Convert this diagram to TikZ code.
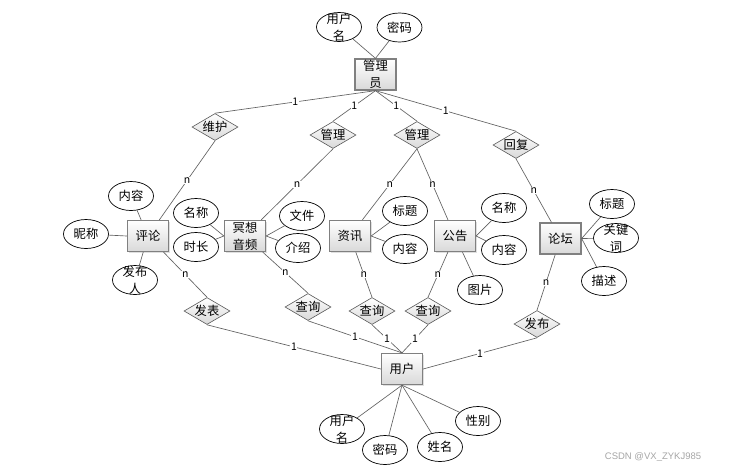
\documentclass[tikz,border=0pt]{standalone}
\usepackage{fontspec}
\setmainfont{Noto Sans CJK SC}
\newfontfamily\wmfont{Liberation Sans}
\usetikzlibrary{shapes.geometric,shadows}
\begin{document}
\begin{tikzpicture}[x=1pt,y=-1pt,
  every node/.style={font=\fontsize{12.3}{17}\selectfont},
  ent/.style={rectangle, draw=black!50, line width=1.3pt, top color=white, bottom color=black!15,
    minimum width=41pt, minimum height=31pt, inner sep=0pt,
    drop shadow={shadow xshift=1.3pt, shadow yshift=-1.3pt, opacity=0.25}},
  attr/.style={ellipse, draw=black, line width=0.7pt, fill=white,
    minimum width=45pt, minimum height=29pt, inner sep=0pt},
  rel/.style={diamond, aspect=1.7, draw=black!65, line width=0.6pt, top color=white, bottom color=black!15,
    minimum width=46pt, minimum height=27pt, inner sep=0pt},
  ml/.style={align=center, inner sep=0pt, font=\fontsize{12.3}{17}\selectfont},
  conn/.style={draw=black!62, line width=0.65pt},
  card/.style={fill=white, inner sep=0.6pt, font=\fontsize{10.5}{11}\selectfont}
]
\useasboundingbox[fill=white] (0,0) rectangle (738,472);

% entities
\node[ent, label={[ml]center:{管理\\员}}] (mgr) at (375.5,74.5) {};
\node[ent] (pl) at (148,236) {评论};
\node[ent, label={[ml]center:{冥想\\音频}}] (mx) at (245,236) {};
\node[ent] (zx) at (350,236) {资讯};
\node[ent] (gg) at (455,236) {公告};
\node[ent] (lt) at (560.5,238.5) {论坛};
\node[ent] (user) at (402,369) {用户};

% attributes
\node[attr, label={[ml]center:{用户\\名}}] (a1) at (339,27) {};
\node[attr] (a2) at (399.5,27.5) {密码};
\node[attr] (b1) at (131,196) {内容};
\node[attr] (b2) at (86,234) {昵称};
\node[attr, label={[ml]center:{发布\\人}}] (b3) at (135,280) {};
\node[attr] (c1) at (196,213) {名称};
\node[attr] (c2) at (196,247) {时长};
\node[attr] (c3) at (302,216) {文件};
\node[attr] (c4) at (298,248) {介绍};
\node[attr] (d1) at (405,211) {标题};
\node[attr] (d2) at (405,249) {内容};
\node[attr] (e1) at (504,208) {名称};
\node[attr] (e2) at (504,250) {内容};
\node[attr] (e3) at (480,290) {图片};
\node[attr] (f1) at (612,204) {标题};
\node[attr, label={[ml]center:{关键\\词}}] (f2) at (616,238) {};
\node[attr] (f3) at (604,281) {描述};
\node[attr, label={[ml]center:{用户\\名}}] (g1) at (342,429) {};
\node[attr] (g2) at (385,450) {密码};
\node[attr] (g3) at (440,447) {姓名};
\node[attr] (g4) at (478,421) {性别};

% relationships
\node[rel] (wh) at (215,127) {维护};
\node[rel] (gl1) at (333,135) {管理};
\node[rel] (gl2) at (417,135) {管理};
\node[rel] (hf) at (516,145) {回复};
\node[rel] (fb) at (207,311) {发表};
\node[rel] (cx1) at (308,307) {查询};
\node[rel] (cx2) at (372,311) {查询};
\node[rel] (cx3) at (428,311) {查询};
\node[rel] (fbu) at (537,324) {发布};

% attribute links
\draw[conn] (a1) -- (mgr.north);
\draw[conn] (a2) -- (mgr.north);
\draw[conn] (b1) -- (pl);
\draw[conn] (b2) -- (pl.west);
\draw[conn] (b3) -- (pl);
\draw[conn] (c1) -- (mx.west);
\draw[conn] (c2) -- (mx.west);
\draw[conn] (c3) -- (mx.east);
\draw[conn] (c4) -- (mx.east);
\draw[conn] (d1) -- (zx.east);
\draw[conn] (d2) -- (zx.east);
\draw[conn] (e1) -- (gg.east);
\draw[conn] (e2) -- (gg.east);
\draw[conn] (e3) -- (gg);
\draw[conn] (f1) -- (lt.east);
\draw[conn] (f2) -- (lt.east);
\draw[conn] (f3) -- (lt.east);
\draw[conn] (g1) -- (user.south);
\draw[conn] (g2) -- (user.south);
\draw[conn] (g3) -- (user.south);
\draw[conn] (g4) -- (user.south);

% relationship links
\draw[conn] (mgr.south) -- node[card]{1} (wh.north);
\draw[conn] (mgr.south) -- node[card]{1} (gl1.north);
\draw[conn] (mgr.south) -- node[card]{1} (gl2.north);
\draw[conn] (mgr.south) -- node[card]{1} (hf.north);
\draw[conn] (wh.south) -- node[card]{n} (pl);
\draw[conn] (gl1.south) -- node[card]{n} (mx);
\draw[conn] (gl2.south) -- node[card]{n} (zx);
\draw[conn] (gl2.south) -- node[card]{n} (gg);
\draw[conn] (hf.south) -- node[card]{n} (lt);
\draw[conn] (pl) -- node[card]{n} (fb.north);
\draw[conn] (mx) -- node[card]{n} (cx1.north);
\draw[conn] (zx) -- node[card]{n} (cx2.north);
\draw[conn] (gg) -- node[card]{n} (cx3.north);
\draw[conn] (lt) -- node[card]{n} (fbu.north);
\draw[conn] (fb.south) -- node[card]{1} (user.west);
\draw[conn] (cx1.south) -- node[card]{1} (user.north);
\draw[conn] (cx2.south) -- node[card]{1} (user.north);
\draw[conn] (cx3.south) -- node[card]{1} (user.north);
\draw[conn] (fbu.south) -- node[card]{1} (user.east);

\node[font=\wmfont\fontsize{9.5}{10}\selectfont, text=black!35] (wm) at (653,457) {CSDN @VX\_ZYKJ985};
\end{tikzpicture}
\end{document}
